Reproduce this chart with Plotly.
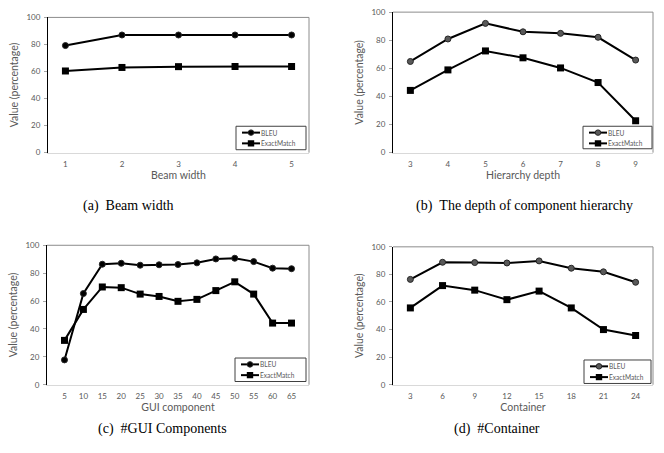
import plotly.graph_objects as go

W, H = 664, 453

# ---------------- data ----------------
beam_x = ["1", "2", "3", "4", "5"]
beam_bleu = [79.2, 87.0, 87.0, 87.0, 87.0]
beam_em = [60.4, 63.0, 63.6, 63.7, 63.7]

depth_x = ["3", "4", "5", "6", "7", "8", "9"]
depth_bleu = [64.9, 80.9, 92.0, 86.0, 84.9, 82.1, 65.9]
depth_em = [44.3, 58.9, 72.4, 67.5, 60.3, 49.9, 22.7]

gui_x = ["5", "10", "15", "20", "25", "30", "35", "40", "45", "50", "55", "60", "65"]
gui_bleu = [17.8, 65.4, 86.4, 87.1, 85.7, 86.0, 86.2, 87.4, 90.2, 90.7, 88.3, 83.6, 83.2]
gui_em = [31.8, 54.0, 70.1, 69.6, 65.0, 63.3, 59.8, 61.2, 67.5, 73.8, 65.0, 44.2, 44.2]

cont_x = ["3", "6", "9", "12", "15", "18", "21", "24"]
cont_bleu = [76.4, 88.8, 88.6, 88.3, 89.8, 84.5, 81.9, 74.3]
cont_em = [55.7, 71.9, 68.6, 61.7, 67.9, 55.7, 40.0, 35.7]

y_ticks = [0, 20, 40, 60, 80, 100]
series_names = ["BLEU", "ExactMatch"]

panels = [
    dict(x=beam_x, bleu=beam_bleu, em=beam_em, xtitle="Beam width",
         caption="(a)\u00a0\u00a0Beam width", box=(48, 309, 12.7, 151),
         bleu_fill="#000000", legend=(236, 306, 124, 148), cap=(128, 206)),
    dict(x=depth_x, bleu=depth_bleu, em=depth_em, xtitle="Hierarchy depth",
         caption="(b)\u00a0\u00a0The depth of component hierarchy", box=(393, 653, 7.3, 151),
         bleu_fill="#595959", legend=(583, 652, 124, 147), cap=(524, 206)),
    dict(x=gui_x, bleu=gui_bleu, em=gui_em, xtitle="GUI component",
         caption="(c)\u00a0\u00a0#GUI Components", box=(47, 309, 245.7, 388.3),
         bleu_fill="#000000", legend=(235, 306, 361, 385), cap=(162, 434)),
    dict(x=cont_x, bleu=cont_bleu, em=cont_em, xtitle="Container",
         caption="(d)\u00a0\u00a0#Container", box=(393, 653, 247.3, 388.3),
         bleu_fill="#595959", legend=(584, 651, 363, 387), cap=(497, 434)),
]

SANS = "Lato, Open Sans, sans-serif"
TICK_FONT = dict(family=SANS, size=8, color="#595959")
TITLE_FONT = dict(family=SANS, size=10.5, color="#595959")

fig = go.Figure()
layout = dict(
    width=W, height=H, margin=dict(l=0, r=0, t=0, b=0),
    paper_bgcolor="white", plot_bgcolor="white", showlegend=False,
)
shapes = []
annotations = []

def px(x):
    return x / W

def py(y):
    return 1 - y / H

for i, p in enumerate(panels, start=1):
    xa = "x" if i == 1 else f"x{i}"
    ya = "y" if i == 1 else f"y{i}"
    xkey = "xaxis" if i == 1 else f"xaxis{i}"
    ykey = "yaxis" if i == 1 else f"yaxis{i}"
    x0, x1, yt, yb = p["box"]

    fig.add_trace(go.Scatter(
        x=p["x"], y=p["bleu"], name=series_names[0], mode="lines+markers",
        line=dict(color="#000000", width=2),
        marker=dict(symbol="circle", size=6, color=p["bleu_fill"],
                    line=dict(color="#262626", width=1)),
        xaxis=xa, yaxis=ya, cliponaxis=False))
    fig.add_trace(go.Scatter(
        x=p["x"], y=p["em"], name=series_names[1], mode="lines+markers",
        line=dict(color="#000000", width=2),
        marker=dict(symbol="square", size=7, color="#000000"),
        xaxis=xa, yaxis=ya, cliponaxis=False))

    layout[xkey] = dict(
        domain=[px(x0), px(x1)], anchor=ya, type="category",
        categoryorder="array", categoryarray=p["x"],
        showline=True, linecolor="#d9d9d9", linewidth=1,
        showgrid=False, zeroline=False, ticks="", tickfont=TICK_FONT,
        ticklabelstandoff=4,
        title=dict(text=p["xtitle"], font=TITLE_FONT, standoff=1),
        fixedrange=True,
    )
    layout[ykey] = dict(
        domain=[py(yb), py(yt)], anchor=xa, range=[0, 100],
        tickvals=y_ticks, showline=True, linecolor="#000000", linewidth=1,
        showgrid=False, zeroline=False, ticks="outside", ticklen=3,
        tickcolor="#a6a6a6", tickfont=TICK_FONT, ticklabelstandoff=2,
        title=dict(text="Value (percentage)", font=TITLE_FONT, standoff=5),
        fixedrange=True,
    )

    # plot frame: top and right edges
    shapes.append(dict(type="line", xref="paper", yref="paper",
                       x0=px(x0), x1=px(x1), y0=py(yt), y1=py(yt),
                       line=dict(color="#8c8c8c", width=1)))
    shapes.append(dict(type="line", xref="paper", yref="paper",
                       x0=px(x1), x1=px(x1), y0=py(yt), y1=py(yb),
                       line=dict(color="#8c8c8c", width=1)))

    # legend box
    lx0, lx1, ly0, ly1 = p["legend"]
    shapes.append(dict(type="rect", xref="paper", yref="paper",
                       x0=px(lx0), x1=px(lx1), y0=py(ly1), y1=py(ly0),
                       line=dict(color="#404040", width=1), fillcolor="white"))
    for k, name in enumerate(series_names):
        yy = ly0 + 6.5 + k * 11
        sx0, sx1 = lx0 + 6, lx0 + 24
        shapes.append(dict(type="line", xref="paper", yref="paper",
                           x0=px(sx0), x1=px(sx1), y0=py(yy), y1=py(yy),
                           line=dict(color="#000000", width=2)))
        cx = (sx0 + sx1) / 2
        if k == 0:
            r = 2.8
            shapes.append(dict(type="circle", xref="paper", yref="paper",
                               x0=px(cx - r), x1=px(cx + r), y0=py(yy + r), y1=py(yy - r),
                               line=dict(color="#262626", width=1), fillcolor=p["bleu_fill"]))
        else:
            r = 3.2
            shapes.append(dict(type="rect", xref="paper", yref="paper",
                               x0=px(cx - r), x1=px(cx + r), y0=py(yy + r), y1=py(yy - r),
                               line=dict(color="#000000", width=0), fillcolor="#000000"))
        annotations.append(dict(xref="paper", yref="paper", x=px(sx1 + 0.5), y=py(yy),
                                text=name, showarrow=False, xanchor="left", yanchor="middle",
                                xshift=-2,
                                font=dict(family=SANS, size=6.6, color="#595959")))

    # caption
    cxp, cyp = p["cap"]
    annotations.append(dict(xref="paper", yref="paper", x=px(cxp), y=py(cyp),
                            text=p["caption"], showarrow=False, xanchor="center", yanchor="middle",
                            font=dict(family="Liberation Serif, DejaVu Serif, serif", size=14,
                                      color="#000000")))

layout["shapes"] = shapes
layout["annotations"] = annotations
fig.update_layout(**layout)
fig.write_html(
    "out.html",
    config={"displayModeBar": False},
    post_script="document.body.style.margin='0';document.body.style.overflow='hidden';",
)
